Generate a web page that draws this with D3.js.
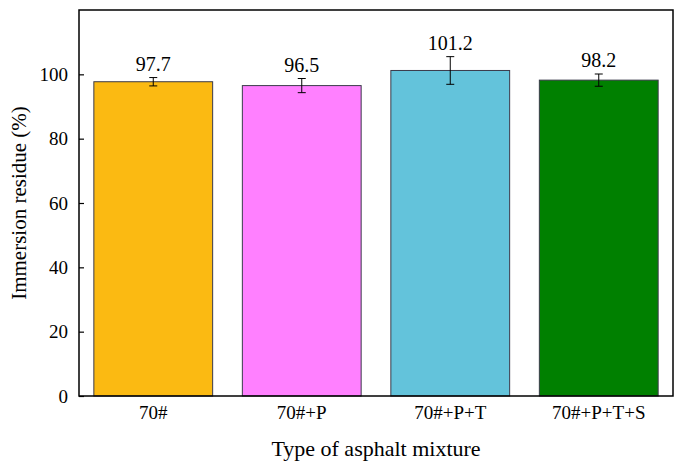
<!DOCTYPE html>
<html>
<head>
<meta charset="utf-8">
<script src="https://cdn.jsdelivr.net/npm/d3@7"></script>
<style>
  body { margin: 0; background: #fff; }
  text { font-family: "Liberation Serif", "Times New Roman", "DejaVu Serif", serif; }
</style>
</head>
<body>
<svg id="chart" width="681" height="461"></svg>
<script>
// chart data
const categories = ['70#', '70#+P', '70#+P+T', '70#+P+T+S'];
const values = [97.7, 96.5, 101.2, 98.2];
const errors = [1.3, 2.2, 4.3, 1.9];
const colors = ['#FBBA12', '#FF80FF', '#63C3DB', '#008000'];
const yTicks = [0, 20, 40, 60, 80, 100];

(function () {
    const plotL = 79, plotR = 673, plotT = 10, plotB = 396;
    const svg = d3.select('#chart');

    const x = d3.scaleBand()
        .domain(categories)
        .range([plotL, plotR])
        .paddingInner(0.2)
        .paddingOuter(0.1);

    const y = d3.scaleLinear()
        .domain([0, 120])
        .range([plotB, plotT]);

    const cx = d => x(d) + x.bandwidth() / 2;

    // bars
    svg.selectAll('rect.bar')
        .data(categories)
        .enter()
        .append('rect')
        .attr('class', 'bar')
        .attr('x', d => x(d))
        .attr('width', x.bandwidth())
        .attr('y', (d, i) => y(values[i]))
        .attr('height', (d, i) => y(0) - y(values[i]))
        .attr('fill', (d, i) => colors[i])
        .attr('stroke', '#3a3a4a')
        .attr('stroke-width', 1);

    // error bars
    const eb = svg.selectAll('g.err')
        .data(categories)
        .enter()
        .append('g')
        .attr('class', 'err')
        .attr('stroke', '#000')
        .attr('stroke-width', 1);

    eb.append('line')
        .attr('x1', cx)
        .attr('x2', cx)
        .attr('y1', (d, i) => y(values[i] + errors[i]))
        .attr('y2', (d, i) => y(values[i] - errors[i]));

    [1, -1].forEach(s => {
        eb.append('line')
            .attr('x1', d => cx(d) - 4)
            .attr('x2', d => cx(d) + 4)
            .attr('y1', (d, i) => y(values[i] + s * errors[i]))
            .attr('y2', (d, i) => y(values[i] + s * errors[i]));
    });

    // value labels
    svg.selectAll('text.val')
        .data(categories)
        .enter()
        .append('text')
        .attr('class', 'val')
        .attr('x', cx)
        .attr('y', (d, i) => y(values[i] + errors[i]) - 7)
        .attr('text-anchor', 'middle')
        .attr('font-size', 20)
        .text((d, i) => values[i].toFixed(1));

    // y axis
    const yAxis = svg.append('g')
        .attr('transform', `translate(${plotL},0)`)
        .call(d3.axisLeft(y).tickValues(yTicks).tickSizeInner(-5).tickSizeOuter(0).tickPadding(11));
    yAxis.attr('font-family', null).attr('font-size', 19);
    yAxis.select('.domain').remove();
    yAxis.selectAll('line').attr('stroke', '#000').attr('stroke-width', 1.2);
    yAxis.selectAll('text').attr('fill', '#000');

    // x axis labels
    const xAxis = svg.append('g')
        .attr('transform', `translate(0,${plotB})`)
        .call(d3.axisBottom(x).tickSize(0).tickPadding(10));
    xAxis.attr('font-family', null).attr('font-size', 19);
    xAxis.select('.domain').remove();
    xAxis.selectAll('text').attr('fill', '#000');

    // frame
    svg.append('rect')
        .attr('x', plotL)
        .attr('y', plotT)
        .attr('width', plotR - plotL)
        .attr('height', plotB - plotT)
        .attr('fill', 'none')
        .attr('stroke', '#000')
        .attr('stroke-width', 1.5);

    // axis titles
    svg.append('text')
        .attr('x', (plotL + plotR) / 2)
        .attr('y', 456)
        .attr('text-anchor', 'middle')
        .attr('font-size', 22)
        .text('Type of asphalt mixture');

    svg.append('text')
        .attr('transform', `translate(26,${(plotT + plotB) / 2}) rotate(-90)`)
        .attr('text-anchor', 'middle')
        .attr('font-size', 21)
        .text('Immersion residue (%)');
}());
</script>
</body>
</html>
